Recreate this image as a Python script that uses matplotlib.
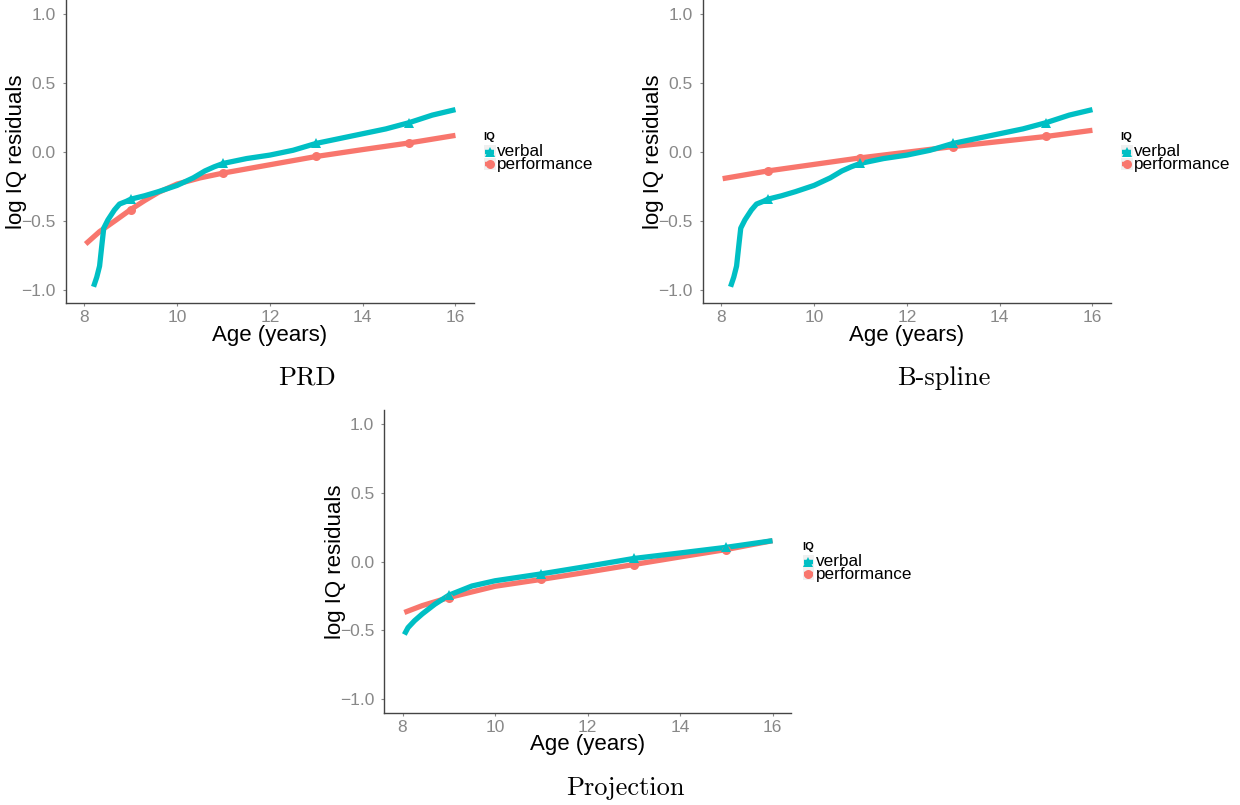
import matplotlib
matplotlib.use("Agg")
import matplotlib.pyplot as plt
from matplotlib.lines import Line2D
from matplotlib.patches import Rectangle

# ---------------- data ----------------
prd_verbal_age = [8.20, 8.27, 8.33, 8.385, 8.42, 8.51, 8.65, 8.76, 8.91, 9.0, 9.3, 9.6, 10.0,
                  10.35, 10.6, 10.8, 11.0, 11.5, 12.0, 12.5, 13.0, 13.5, 14.0, 14.5, 15.0, 15.5, 16.0]
prd_verbal_val = [-0.98, -0.91, -0.83, -0.66, -0.555, -0.495, -0.423, -0.38, -0.36, -0.345, -0.32, -0.29, -0.245,
                  -0.19, -0.14, -0.11, -0.085, -0.05, -0.025, 0.01, 0.06, 0.095, 0.13, 0.165, 0.21, 0.265, 0.305]
prd_perf_age = [8.03, 8.33, 8.69, 9.0, 9.3, 9.6, 10.0, 10.5, 11.0, 12.0, 13.0, 14.0, 15.0, 16.0]
prd_perf_val = [-0.67, -0.58, -0.495, -0.42, -0.355, -0.295, -0.235, -0.19, -0.155, -0.095, -0.035, 0.015, 0.063, 0.118]

bs_verbal_age = prd_verbal_age
bs_verbal_val = prd_verbal_val
bs_perf_age = [8.03, 9.0, 11.0, 13.0, 15.0, 16.0]
bs_perf_val = [-0.196, -0.14, -0.045, 0.037, 0.11, 0.155]

pj_verbal_age = [8.04, 8.12, 8.26, 8.43, 8.7, 9.0, 9.5, 10.0, 11.0, 12.0, 13.0, 14.0, 15.0, 16.0]
pj_verbal_val = [-0.53, -0.48, -0.43, -0.38, -0.31, -0.245, -0.178, -0.14, -0.09, -0.035, 0.022, 0.062, 0.103, 0.151]
pj_perf_age = [8.04, 8.43, 9.0, 10.0, 11.0, 12.0, 13.0, 14.0, 15.0, 16.0]
pj_perf_val = [-0.37, -0.32, -0.262, -0.18, -0.13, -0.077, -0.022, 0.033, 0.087, 0.151]

marker_age = [9, 11, 13, 15]
prd_verbal_pts = [-0.345, -0.085, 0.06, 0.21]
prd_perf_pts = [-0.42, -0.155, -0.035, 0.063]
bs_verbal_pts = [-0.345, -0.085, 0.06, 0.21]
bs_perf_pts = [-0.14, -0.045, 0.037, 0.11]
pj_verbal_pts = [-0.24, -0.09, 0.022, 0.103]
pj_perf_pts = [-0.262, -0.13, -0.022, 0.087]

x_ticks = [8, 10, 12, 14, 16]
y_ticks = [-1.0, -0.5, 0.0, 0.5, 1.0]
y_ticklabels = ["\u22121.0", "\u22120.5", "0.0", "0.5", "1.0"]
series_labels = ["verbal", "performance"]
captions = ["PRD", "B-spline", "Projection"]

TEAL = "#00BFC4"
SALMON = "#F8766D"

W, H = 1240, 805
fig = plt.figure(figsize=(W / 100, H / 100), dpi=100)
plt.rcParams['font.family'] = ['Liberation Sans', 'DejaVu Sans']

def fx(px):
    return px / W

def fy(py):
    return 1 - py / H

# panel rects in pixels: left, top, right, bottom
panels = [
    (65.7, 0, 474, 303.3),
    (702.7, 0, 1111, 303.3),
    (384, 410, 791, 713),
]
caption_pos = [(307, 378), (944, 378), (625, 788)]

datasets = [
    (prd_verbal_age, prd_verbal_val, prd_perf_age, prd_perf_val, prd_verbal_pts, prd_perf_pts),
    (bs_verbal_age, bs_verbal_val, bs_perf_age, bs_perf_val, bs_verbal_pts, bs_perf_pts),
    (pj_verbal_age, pj_verbal_val, pj_perf_age, pj_perf_val, pj_verbal_pts, pj_perf_pts),
]

LW = 3.8
for (l, t, r, b), data, cap, cpos in zip(panels, datasets, captions, caption_pos):
    ax = fig.add_axes([fx(l), fy(b), fx(r) - fx(l), fy(t) - fy(b)])
    va, vv, pa, pv, vpts, ppts = data
    ax.plot(pa, pv, color=SALMON, lw=LW, solid_capstyle='butt', zorder=2)
    ax.plot(va, vv, color=TEAL, lw=LW, solid_capstyle='butt', zorder=3)
    ax.plot(marker_age, ppts, 'o', color=SALMON, ms=6.5, zorder=4, markeredgewidth=0)
    ax.plot(marker_age, vpts, '^', color=TEAL, ms=7.5, zorder=5, markeredgewidth=0)
    ax.set_xlim(7.6, 16.4)
    ax.set_ylim(-1.1, 1.1)
    ax.set_xticks(x_ticks)
    ax.set_yticks(y_ticks)
    ax.set_yticklabels(y_ticklabels)
    for s in ['top', 'right']:
        ax.spines[s].set_visible(False)
    for s in ['left', 'bottom']:
        ax.spines[s].set_color('#444444')
        ax.spines[s].set_linewidth(1.0)
    ax.tick_params(axis='both', colors='#888888', labelsize=12.5, length=2.5, width=0.8)
    ax.tick_params(axis='x', pad=2.5)
    ax.tick_params(axis='y', pad=4.5)
    ax.set_xlabel("Age (years)", fontsize=16, color='black')
    ax.set_ylabel("log IQ residuals", fontsize=16, color='black')
    hpx = b - t
    wpx = r - l
    ax.xaxis.set_label_coords(0.5, -(335 - 303.3) / hpx)
    ax.xaxis.label.set_va('center')
    ax.yaxis.set_label_coords(-(65.7 - 17) / wpx, 0.5)
    ax.yaxis.label.set_va('center')

    # legend (ggplot style)
    lx = l + 418
    fig.text(fx(lx), fy(t + 140.5), "IQ", fontsize=8, fontweight='bold', ha='left', va='baseline')
    for i, (lab, col, mk, ms) in enumerate([(series_labels[0], TEAL, '^', 7),
                                            (series_labels[1], SALMON, 'o', 6.5)]):
        ry = t + 151.5 + 12.3 * i
        fig.add_artist(Rectangle((fx(lx + 0.5), fy(ry + 6)), fx(11.5), 12.3 / H,
                                 transform=fig.transFigure, facecolor='#F0F0F0', edgecolor='none'))
        fig.add_artist(Line2D([fx(lx + 1.5), fx(lx + 10.5)], [fy(ry), fy(ry)], color=col, lw=3.2,
                              transform=fig.transFigure, solid_capstyle='butt'))
        fig.add_artist(Line2D([fx(lx + 6)], [fy(ry)], marker=mk, color=col, ms=ms, markeredgewidth=0,
                              transform=fig.transFigure))
        fig.text(fx(lx + 13.5), fy(ry + 4.8), lab, fontsize=12.3, ha='left', va='baseline')

    fig.text(fx(cpos[0]), fy(cpos[1]), cap, fontsize=19, family='cmr10', ha='center', va='center')

fig.savefig("out.png", dpi=100)
